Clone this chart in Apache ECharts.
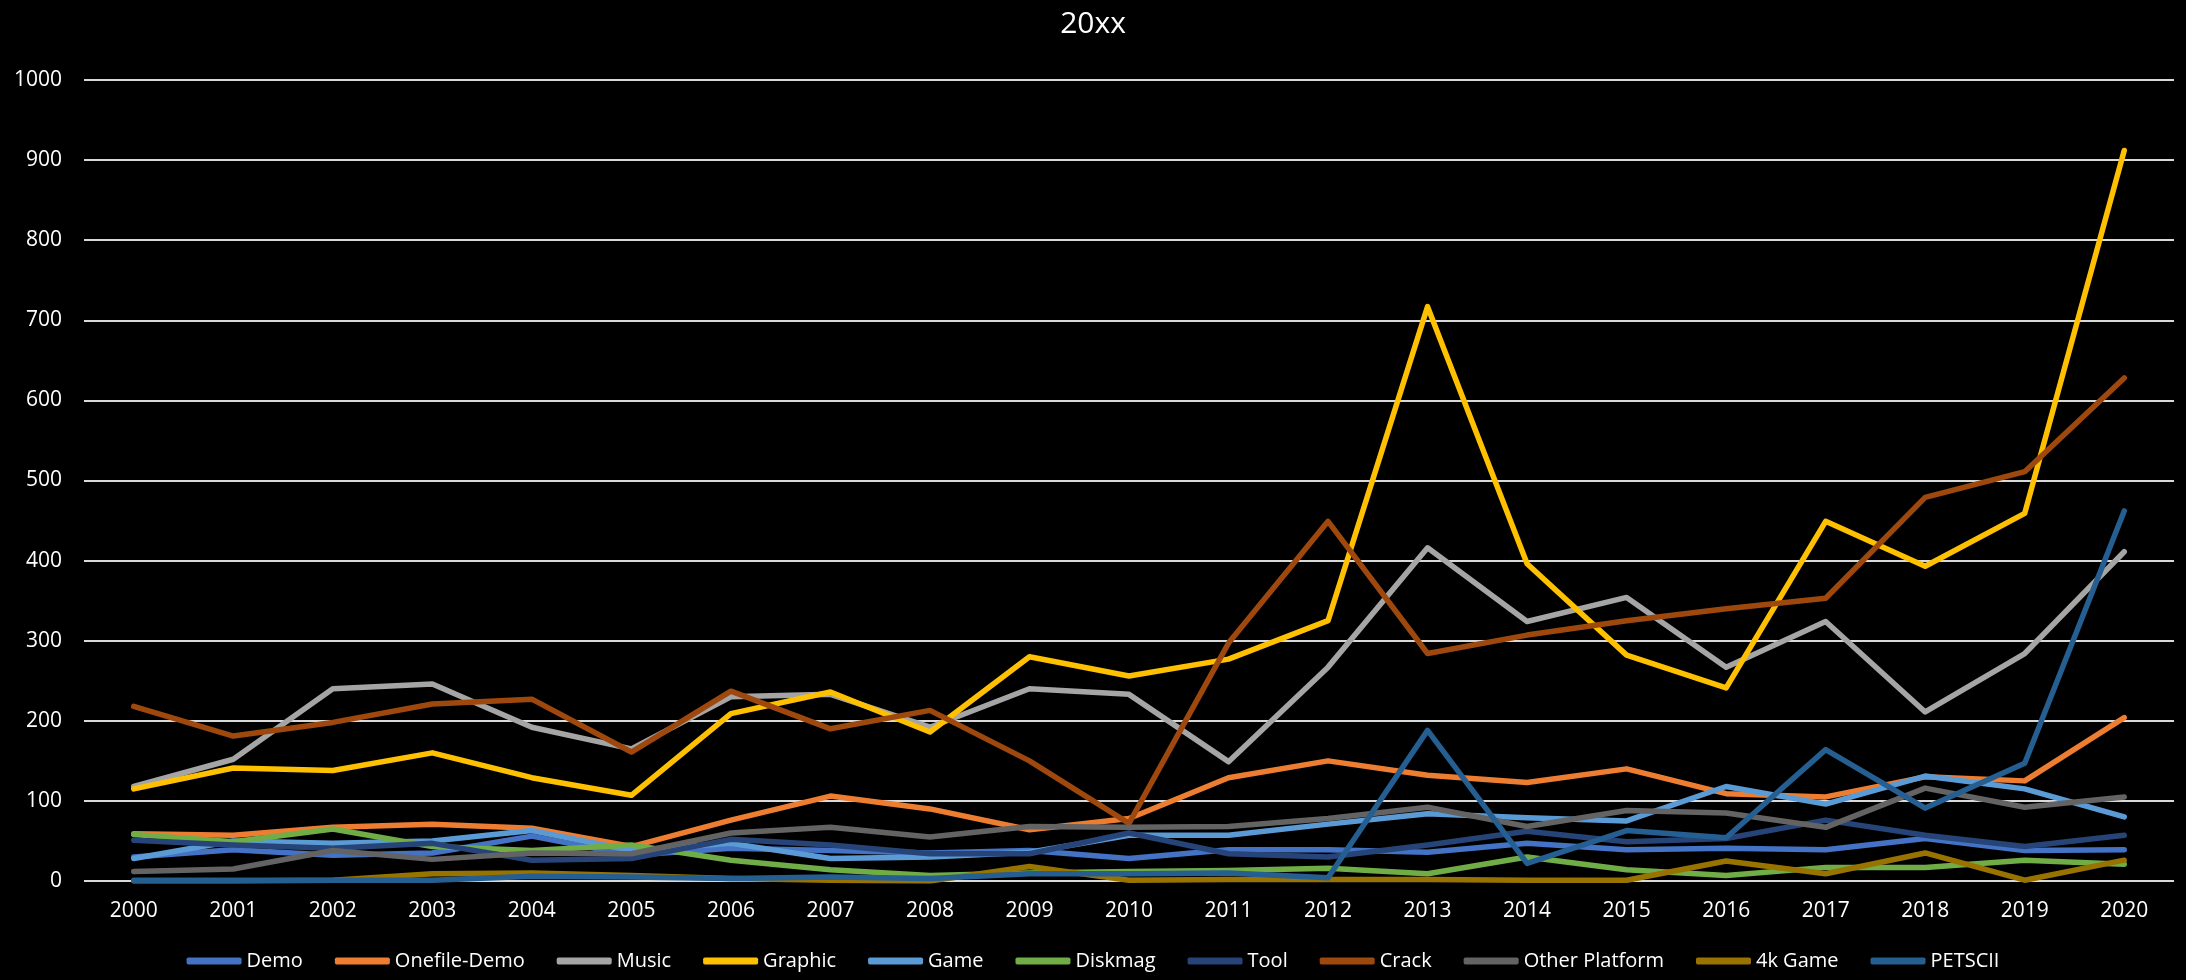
<!DOCTYPE html>
<html>
<head>
<meta charset="utf-8">
<title>20xx</title>
<script src="https://cdn.jsdelivr.net/npm/echarts@6/dist/echarts.min.js"></script>
<style>
  html, body { margin: 0; padding: 0; background: #000; }
  #main { width: 2186px; height: 980px; }
</style>
</head>
<body>
<div id="main"></div>
<script>
// years on the x axis
var years = ['2000', '2001', '2002', '2003', '2004', '2005', '2006', '2007', '2008', '2009', '2010',
  '2011', '2012', '2013', '2014', '2015', '2016', '2017', '2018', '2019', '2020'];

// series values
var demo          = [30, 39, 32, 35, 56, 32, 41, 38, 35, 38, 28, 39, 39, 36, 47, 39, 41, 39, 53, 38, 39];
var onefileDemo   = [59, 57, 67, 71, 66, 43, 76, 106, 90, 64, 78, 129, 150, 132, 123, 140, 109, 105, 130, 125, 204];
var music         = [118, 152, 240, 246, 192, 165, 230, 233, 192, 240, 233, 149, 267, 416, 324, 354, 267, 324, 211, 284, 411];
var graphic       = [115, 141, 138, 160, 129, 107, 209, 236, 186, 280, 256, 277, 325, 717, 396, 282, 241, 449, 393, 459, 912];
var game          = [28, 50, 47, 50, 63, 38, 47, 28, 30, 36, 57, 57, 71, 84, 79, 75, 118, 96, 131, 115, 80];
var diskmag       = [58, 49, 65, 43, 38, 45, 26, 14, 7, 10, 12, 13, 16, 9, 30, 14, 7, 17, 17, 26, 21];
var tool          = [51, 45, 41, 47, 26, 28, 52, 45, 34, 34, 60, 34, 30, 45, 62, 49, 53, 76, 57, 43, 57];
var crack         = [218, 181, 198, 221, 227, 161, 237, 190, 213, 150, 72, 297, 449, 284, 307, 325, 340, 353, 479, 511, 628];
var otherPlatform = [12, 15, 38, 27, 35, 34, 60, 67, 55, 68, 67, 68, 78, 92, 68, 88, 85, 67, 116, 92, 105];
var game4k        = [0, 0, 1, 9, 10, 7, 3, 1, 0, 18, 1, 2, 2, 2, 1, 1, 25, 9, 35, 1, 26];
var petscii       = [1, 1, 1, 1, 6, 5, 3, 5, 3, 9, 9, 10, 4, 188, 22, 63, 54, 164, 91, 147, 462];

var seriesNames  = ['Demo', 'Onefile-Demo', 'Music', 'Graphic', 'Game', 'Diskmag', 'Tool', 'Crack', 'Other Platform', '4k Game', 'PETSCII'];
var seriesData   = [demo, onefileDemo, music, graphic, game, diskmag, tool, crack, otherPlatform, game4k, petscii];
var seriesColors = ['#4472C4', '#ED7D31', '#A5A5A5', '#FFC000', '#5B9BD5', '#70AD47', '#264478', '#9E480E', '#636363', '#997300', '#255E91'];

var font = '"Open Sans", "Liberation Sans", sans-serif';

var chart = echarts.init(document.getElementById('main'));

var series = seriesNames.map(function (name, i) {
  return {
    name: name,
    type: 'line',
    data: seriesData[i],
    showSymbol: false,
    symbol: 'none',
    color: seriesColors[i],
    lineStyle: { width: 5.5, color: seriesColors[i], cap: 'round', join: 'round' },
    animation: false
  };
});

var option = {
  backgroundColor: '#000000',
  animation: false,
  title: {
    text: '20xx',
    left: 'center',
    top: 4,
    textStyle: { color: '#ffffff', fontSize: 30, fontWeight: 'normal', fontFamily: font }
  },
  legend: {
    data: seriesNames,
    bottom: 4,
    left: 'center',
    icon: 'roundRect',
    itemWidth: 55,
    itemHeight: 7,
    itemGap: 32,
    textStyle: { color: '#ffffff', fontSize: 20, fontFamily: font }
  },
  grid: { left: 84, right: 12, top: 80, bottom: 99, containLabel: false },
  xAxis: {
    type: 'category',
    data: years,
    boundaryGap: true,
    axisLine: { show: false },
    axisTick: { show: false },
    axisLabel: { color: '#ffffff', fontSize: 21, fontFamily: font, margin: 20 }
  },
  yAxis: {
    type: 'value',
    min: 0,
    max: 1000,
    interval: 100,
    axisLine: { show: false },
    axisTick: { show: false },
    axisLabel: { color: '#ffffff', fontSize: 21, fontFamily: font, margin: 22, formatter: function (v) { return String(v); } },
    splitLine: { lineStyle: { color: '#d9d9d9', width: 2 } }
  },
  series: series
};

chart.setOption(option);
</script>
</body>
</html>
